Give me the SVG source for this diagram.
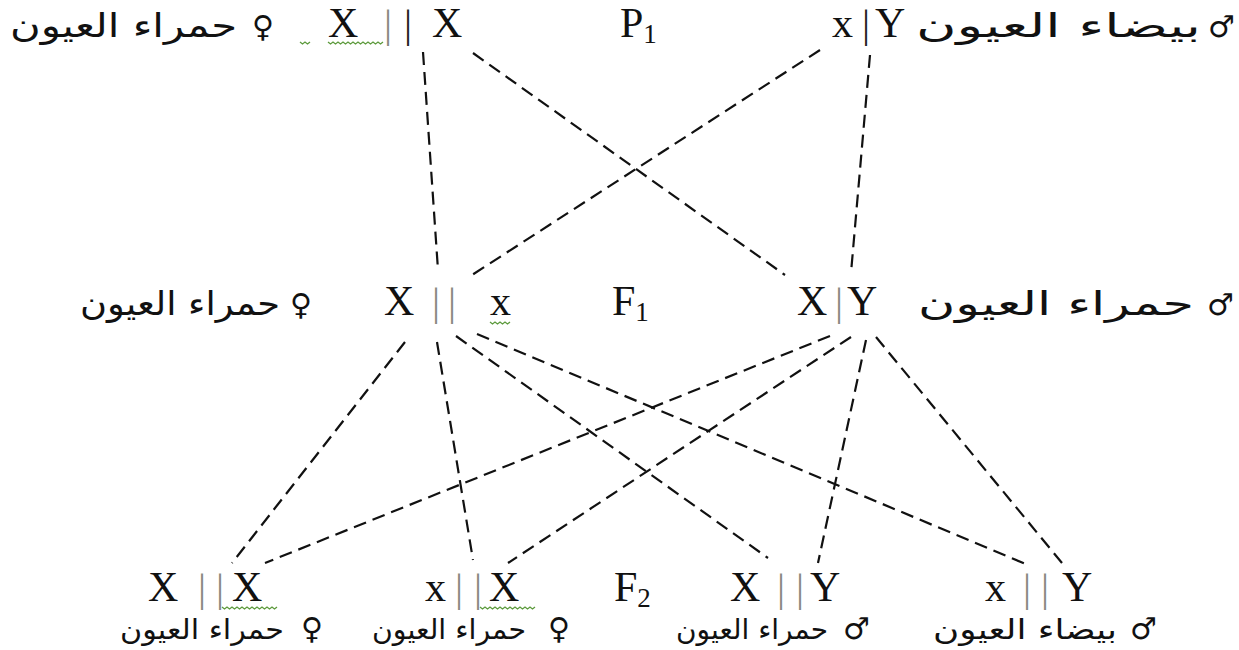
<svg xmlns="http://www.w3.org/2000/svg" width="1239" height="650" viewBox="0 0 1239 650">
<style>
.lt{font-family:"Liberation Serif","Times New Roman",serif;font-size:42px;fill:#111}
.sub{font-family:"Liberation Serif","Times New Roman",serif;font-size:27px;fill:#111}
.ar{font-family:"DejaVu Sans","Noto Sans",sans-serif;font-size:33px;fill:#111}
.ars{font-family:"DejaVu Sans","Noto Sans",sans-serif;font-size:28px;fill:#111}
.sym{font-family:"DejaVu Sans",sans-serif;font-size:30px;fill:#111}
.bar{font-family:"Liberation Serif",serif;font-size:40px}
.g{fill:#8a8a80}
.d{fill:#222}
.wavy{fill:none;stroke:#5c9a3c;stroke-width:1.3}
.con line{stroke:#111;stroke-width:2.2;stroke-dasharray:13 7;fill:none}
</style>
<rect width="1239" height="650" fill="#fff"/>

<g id="connectors" class="con">
<line x1="423" y1="52" x2="438" y2="270"/>
<line x1="473" y1="53" x2="785" y2="275"/>
<line x1="820" y1="50" x2="472" y2="275"/>
<line x1="870" y1="55" x2="851" y2="273"/>
<line x1="405" y1="342" x2="232" y2="563"/>
<line x1="437" y1="342" x2="473" y2="560"/>
<line x1="456" y1="336" x2="768" y2="558"/>
<line x1="477" y1="334" x2="1028" y2="565"/>
<line x1="830" y1="336" x2="265" y2="563"/>
<line x1="851" y1="337" x2="508" y2="563"/>
<line x1="866" y1="340" x2="818" y2="563"/>
<line x1="876" y1="337" x2="1062" y2="563"/>
</g>

<g id="p1-female">
<text class="ar" x="10" y="37" textLength="227" lengthAdjust="spacingAndGlyphs">حمراء العيون</text>
<text class="sym" x="252" y="37">♀</text>
<path class="wavy" d="M300 42 l2.5 2 l2.5 -2 l2.5 2 l2.5 -2"/>
<text class="lt" x="328" y="37">X</text>
<path class="wavy" d="M328 42 l2.5 2 l2.5 -2 l2.5 2 l2.5 -2 l2.5 2 l2.5 -2 l2.5 2 l2.5 -2 l2.5 2 l2.5 -2 l2.5 2 l2.5 -2 l2.5 2 l2.5 -2 l2.5 2 l2.5 -2 l2.5 2 l2.5 -2 l2.5 2 l2.5 -2 l2.5 2 l2.5 -2"/>
<text class="bar g" x="384" y="37">|</text>
<text class="bar d" x="404" y="37">|</text>
<text class="lt" x="432" y="37">X</text>
</g>

<g id="p1-label">
<text class="lt" x="620" y="37">P<tspan class="sub" dy="6">1</tspan></text>
</g>

<g id="p1-male">
<text class="lt" x="832" y="37">x</text>
<text class="bar d" x="862" y="37">|</text>
<text class="lt" x="875" y="37">Y</text>
<text class="ar" x="916" y="37" textLength="285" lengthAdjust="spacingAndGlyphs">بيضاء العيون</text>
<text class="sym" x="1208" y="37">♂</text>
</g>

<g id="f1-female">
<text class="ar" x="80" y="315" textLength="200" lengthAdjust="spacingAndGlyphs">حمراء العيون</text>
<text class="sym" x="290" y="315">♀</text>
<text class="lt" x="384" y="315">X</text>
<text class="bar g" x="432" y="315">|</text>
<text class="bar g" x="448" y="315">|</text>
<text class="lt" x="490" y="315">x</text>
<path class="wavy" d="M490 322 l2.5 2 l2.5 -2 l2.5 2 l2.5 -2 l2.5 2 l2.5 -2 l2.5 2 l2.5 -2"/>
</g>

<g id="f1-label">
<text class="lt" x="612" y="315">F<tspan class="sub" dy="6">1</tspan></text>
</g>

<g id="f1-male">
<text class="lt" x="797" y="315">X</text>
<text class="bar g" x="835" y="315">|</text>
<text class="lt" x="847" y="315">Y</text>
<text class="ar" x="918" y="315" textLength="276" lengthAdjust="spacingAndGlyphs">حمراء العيون</text>
<text class="sym" x="1207" y="315">♂</text>
</g>

<g id="f2-label">
<text class="lt" x="614" y="601">F<tspan class="sub" dy="6">2</tspan></text>
</g>

<g id="f2-1">
<text class="lt" x="148" y="601">X</text>
<text class="bar g" x="198" y="601">|</text>
<text class="bar g" x="216" y="601">|</text>
<text class="lt" x="232" y="601">X</text>
<path class="wavy" d="M222 607 l2.5 2 l2.5 -2 l2.5 2 l2.5 -2 l2.5 2 l2.5 -2 l2.5 2 l2.5 -2 l2.5 2 l2.5 -2 l2.5 2 l2.5 -2 l2.5 2 l2.5 -2 l2.5 2 l2.5 -2 l2.5 2 l2.5 -2 l2.5 2 l2.5 -2 l2.5 2 l2.5 -2"/>
<text class="ars" x="120" y="639" textLength="164" lengthAdjust="spacingAndGlyphs">حمراء العيون</text>
<text class="sym" x="301" y="639">♀</text>
</g>

<g id="f2-2">
<text class="lt" x="425" y="601">x</text>
<text class="bar g" x="455" y="601">|</text>
<text class="bar g" x="474" y="601">|</text>
<text class="lt" x="489" y="601">X</text>
<path class="wavy" d="M480 607 l2.5 2 l2.5 -2 l2.5 2 l2.5 -2 l2.5 2 l2.5 -2 l2.5 2 l2.5 -2 l2.5 2 l2.5 -2 l2.5 2 l2.5 -2 l2.5 2 l2.5 -2 l2.5 2 l2.5 -2 l2.5 2 l2.5 -2 l2.5 2 l2.5 -2 l2.5 2 l2.5 -2"/>
<text class="ars" x="372" y="639" textLength="154" lengthAdjust="spacingAndGlyphs">حمراء العيون</text>
<text class="sym" x="548" y="639">♀</text>
</g>

<g id="f2-3">
<text class="lt" x="730" y="601">X</text>
<text class="bar g" x="777" y="601">|</text>
<text class="bar g" x="796" y="601">|</text>
<text class="lt" x="810" y="601">Y</text>
<text class="ars" x="676" y="639" textLength="152" lengthAdjust="spacingAndGlyphs">حمراء العيون</text>
<text class="sym" x="843" y="639">♂</text>
</g>

<g id="f2-4">
<text class="lt" x="985" y="601">x</text>
<text class="bar g" x="1023" y="601">|</text>
<text class="bar g" x="1041" y="601">|</text>
<text class="lt" x="1062" y="601">Y</text>
<text class="ars" x="933" y="639" textLength="184" lengthAdjust="spacingAndGlyphs">بيضاء العيون</text>
<text class="sym" x="1130" y="639">♂</text>
</g>
</svg>
